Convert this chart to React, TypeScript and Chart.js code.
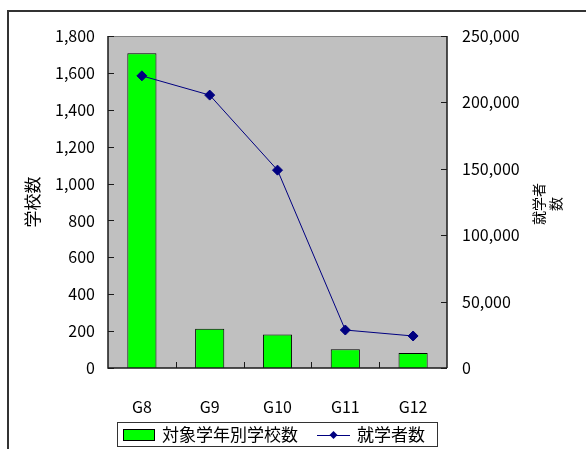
import React, { useEffect, useRef } from "react";
import { Chart, registerables } from "chart.js";

Chart.register(...registerables);

const categories = ["G8", "G9", "G10", "G11", "G12"];
const schoolCounts = [1706, 213, 182, 101, 82];
const enrollment = [220000, 205500, 149000, 28600, 24100];
const barLabel = "対象学年別学校数";
const lineLabel = "就学者数";
const leftTitle = "学校数";
const rightTitleLines = ["就学者", "数"];
const leftMax = 1800;
const leftStep = 200;
const rightMax = 250000;
const rightStep = 50000;

const FONT = "'Noto Sans CJK JP', 'Noto Sans', sans-serif";

const decorPlugin = {
  id: "decor",
  beforeDraw(chart: any) {
    const { ctx, chartArea: a } = chart;
    ctx.save();
    ctx.fillStyle = "#ffffff";
    ctx.fillRect(0, 0, chart.width, chart.height);
    ctx.fillStyle = "#c0c0c0";
    ctx.fillRect(a.left, a.top, a.right - a.left, a.bottom - a.top);
    ctx.restore();
  },
  afterDraw(chart: any) {
    const { ctx, chartArea: a, scales } = chart;
    ctx.save();
    // plot top border
    ctx.strokeStyle = "#808080";
    ctx.lineWidth = 1;
    ctx.beginPath();
    ctx.moveTo(a.left, a.top + 0.5);
    ctx.lineTo(a.right, a.top + 0.5);
    ctx.stroke();
    // axes lines
    ctx.strokeStyle = "#1a1a1a";
    ctx.lineWidth = 1.5;
    ctx.beginPath();
    ctx.moveTo(a.left, a.top);
    ctx.lineTo(a.left, a.bottom);
    ctx.lineTo(a.right, a.bottom);
    ctx.moveTo(a.right, a.top);
    ctx.lineTo(a.right, a.bottom);
    ctx.stroke();
    // ticks
    ctx.lineWidth = 1;
    ctx.beginPath();
    for (let v = 0; v <= leftMax; v += leftStep) {
      const y = Math.round(scales.y.getPixelForValue(v)) + 0.5;
      ctx.moveTo(a.left, y);
      ctx.lineTo(a.left + 6, y);
    }
    for (let v = 0; v <= rightMax; v += rightStep) {
      const y = Math.round(scales.y1.getPixelForValue(v)) + 0.5;
      ctx.moveTo(a.right, y);
      ctx.lineTo(a.right - 6, y);
    }
    for (let i = 1; i < categories.length; i++) {
      const x =
        Math.round(
          (scales.x.getPixelForValue(i - 1) + scales.x.getPixelForValue(i)) / 2
        ) + 0.5;
      ctx.moveTo(x, a.bottom);
      ctx.lineTo(x, a.bottom - 6);
    }
    ctx.stroke();

    // titles
    ctx.fillStyle = "#000";
    ctx.textAlign = "center";
    ctx.textBaseline = "middle";
    ctx.font = `17px ${FONT}`;
    ctx.save();
    ctx.translate(33, (a.top + a.bottom) / 2);
    ctx.rotate(-Math.PI / 2);
    ctx.fillText(leftTitle, 0, 0);
    ctx.restore();
    ctx.font = `14px ${FONT}`;
    ctx.save();
    ctx.translate(547, 204);
    ctx.rotate(-Math.PI / 2);
    ctx.fillText(rightTitleLines[0], 0, -8);
    ctx.fillText(rightTitleLines[1], 0, 9);
    ctx.restore();

    // outer frame
    ctx.strokeStyle = "#333";
    ctx.lineWidth = 2;
    ctx.strokeRect(8, 11, 700, 600);

    // legend
    const ds = chart.data.datasets;
    ctx.strokeStyle = "#333";
    ctx.lineWidth = 1;
    ctx.strokeRect(117.5, 422.5, 320, 24);
    const cy = 435;
    ctx.fillStyle = ds[0].backgroundColor;
    ctx.fillRect(123, cy - 5, 32, 11);
    ctx.strokeStyle = "#000";
    ctx.strokeRect(123.5, cy - 5.5, 31, 11);
    ctx.fillStyle = "#000";
    ctx.textAlign = "left";
    ctx.font = `17px ${FONT}`;
    ctx.fillText(ds[0].label, 162, cy);
    ctx.strokeStyle = ds[1].borderColor;
    ctx.beginPath();
    ctx.moveTo(317, cy + 0.5);
    ctx.lineTo(350, cy + 0.5);
    ctx.stroke();
    ctx.fillStyle = ds[1].pointBackgroundColor;
    ctx.beginPath();
    ctx.moveTo(333.5, cy - 4);
    ctx.lineTo(337.5, cy);
    ctx.lineTo(333.5, cy + 4);
    ctx.lineTo(329.5, cy);
    ctx.closePath();
    ctx.fill();
    ctx.fillStyle = "#000";
    ctx.fillText(ds[1].label, 357, cy);
    ctx.restore();
  },
};

export default function App() {
  const ref = useRef<HTMLCanvasElement>(null);
  useEffect(() => {
    document.body.style.margin = "0";
    const chart = new Chart(ref.current as HTMLCanvasElement, {
      type: "bar",
      data: {
        labels: categories,
        datasets: [
          {
            type: "bar",
            label: barLabel,
            data: schoolCounts,
            backgroundColor: "#00ff00",
            borderColor: "#000000",
            borderWidth: 1,
            yAxisID: "y",
            barPercentage: 0.43,
            categoryPercentage: 1,
            order: 1,
          },
          {
            type: "line",
            label: lineLabel,
            data: enrollment,
            borderColor: "#000080",
            backgroundColor: "#000080",
            pointBackgroundColor: "#000080",
            pointBorderColor: "#000080",
            pointStyle: "rectRot",
            pointRadius: 5,
            borderWidth: 1,
            yAxisID: "y1",
            order: 0,
          },
        ] as any,
      },
      options: {
        animation: false,
        responsive: false,
        layout: { padding: { top: 36, bottom: 21, left: 0, right: 0 } },
        plugins: { legend: { display: false }, tooltip: { enabled: false } },
        scales: {
          x: {
            type: "category",
            grid: { display: false, drawTicks: false },
            border: { display: false },
            ticks: {
              color: "#000",
              font: { family: FONT, size: 16 },
              padding: 29,
              maxRotation: 0,
            },
            afterFit: (s: any) => {
              s.height = 60;
            },
          },
          y: {
            position: "left",
            min: 0,
            max: leftMax,
            grid: { display: false, drawTicks: false },
            border: { display: false },
            ticks: {
              stepSize: leftStep,
              color: "#000",
              font: { family: FONT, size: 16 },
              padding: 13,
              callback: (v: any) => Number(v).toLocaleString("en-US"),
            },
            afterFit: (s: any) => {
              s.width = 108;
            },
          },
          y1: {
            position: "right",
            min: 0,
            max: rightMax,
            grid: { display: false, drawTicks: false },
            border: { display: false },
            ticks: {
              stepSize: rightStep,
              color: "#000",
              font: { family: FONT, size: 16 },
              padding: 15,
              callback: (v: any) => Number(v).toLocaleString("en-US"),
            },
            afterFit: (s: any) => {
              s.width = 139;
            },
          },
        },
      } as any,
      plugins: [decorPlugin],
    });
    return () => chart.destroy();
  }, []);
  return (
    <div style={{ position: "absolute", left: 0, top: 0, width: 586, height: 449 }}>
      <canvas ref={ref} width={586} height={449} style={{ width: 586, height: 449 }} />
    </div>
  );
}
